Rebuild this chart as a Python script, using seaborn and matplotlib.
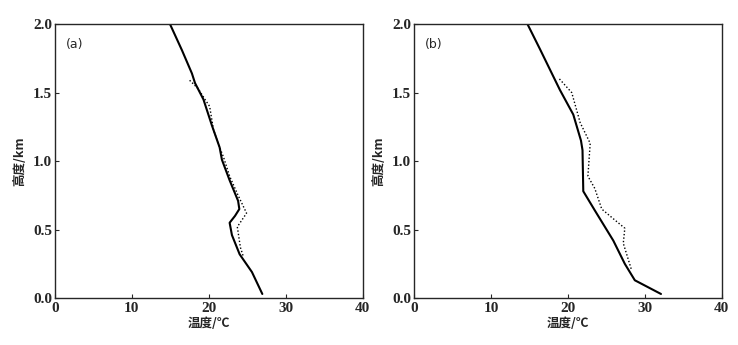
import numpy as np
import pandas as pd
import seaborn as sns
import matplotlib
matplotlib.use("Agg")
import matplotlib.pyplot as plt

# panel (a)
a_solid_t = [14.95, 16.5, 17.8, 18.2, 19.3, 20.4, 21.4, 21.7, 22.7, 23.8, 23.96, 23.4, 22.7, 23.0, 24.0, 25.6, 26.95]
a_solid_h = [2.0, 1.81, 1.64, 1.57, 1.45, 1.26, 1.10, 1.01, 0.86, 0.71, 0.65, 0.60, 0.55, 0.46, 0.32, 0.19, 0.03]
a_dot_t = [17.5, 18.6, 19.5, 20.1, 20.6, 21.2, 21.9, 22.7, 23.8, 24.9, 23.7, 24.1, 24.5]
a_dot_h = [1.59, 1.53, 1.45, 1.40, 1.23, 1.13, 1.03, 0.89, 0.75, 0.62, 0.52, 0.37, 0.30]

# panel (b)
b_solid_t = [14.75, 16.35, 18.96, 20.7, 21.7, 21.9, 22.0, 23.5, 25.9, 27.4, 28.7, 32.1]
b_solid_h = [2.0, 1.82, 1.52, 1.34, 1.15, 1.08, 0.78, 0.64, 0.42, 0.25, 0.13, 0.03]
b_dot_t = [18.9, 20.5, 21.6, 22.9, 22.6, 23.5, 24.4, 26.1, 27.4, 27.2, 28.3]
b_dot_h = [1.60, 1.50, 1.28, 1.13, 0.89, 0.80, 0.65, 0.57, 0.51, 0.40, 0.20]

panels = [
    ("(a)", a_solid_t, a_solid_h, a_dot_t, a_dot_h),
    ("(b)", b_solid_t, b_solid_h, b_dot_t, b_dot_h),
]

sns.set_style("ticks")
plt.rcParams['font.family'] = ['Liberation Serif', 'Noto Sans CJK SC', 'DejaVu Sans']

fig = plt.figure(figsize=(7.38, 3.45), dpi=100)
lefts = [0.0745, 0.561]
cjk = ['Noto Sans CJK SC', 'DejaVu Sans']

for left, (tag, st, sh, dt, dh) in zip(lefts, panels):
    ax = fig.add_axes([left, 0.136, 0.417, 0.794])
    sns.lineplot(x=st, y=sh, sort=False, estimator=None, color="black", lw=1.5, ax=ax)
    sns.lineplot(x=dt, y=dh, sort=False, estimator=None, color="black", lw=1.0,
                 dashes=False, ax=ax).lines[-1].set_dashes([1, 1.5])
    ax.set_xlim(0, 40)
    ax.set_ylim(0, 2.0)
    ax.set_xticks([0, 10, 20, 30, 40])
    ax.set_yticks([0.0, 0.5, 1.0, 1.5, 2.0])
    ax.set_yticklabels(["0.0", "0.5", "1.0", "1.5", "2.0"])
    ax.tick_params(direction="in", length=3, width=0.8, labelsize=11)
    ax.tick_params(axis="x", pad=2.5)
    ax.tick_params(axis="y", pad=2)
    for lab in ax.get_xticklabels() + ax.get_yticklabels():
        lab.set_fontweight("bold")
    for s in ax.spines.values():
        s.set_linewidth(1.0)
    ax.set_xlabel("温度/℃", family=cjk, fontsize=9, fontweight="bold", labelpad=2)
    ax.set_ylabel("高度/km", family=cjk, fontsize=9, fontweight="bold", labelpad=5)
    ax.text(0.035, 0.95, tag, transform=ax.transAxes, family=['DejaVu Sans'],
            fontsize=9, va="top", ha="left")

fig.savefig("out.png", dpi=100)
